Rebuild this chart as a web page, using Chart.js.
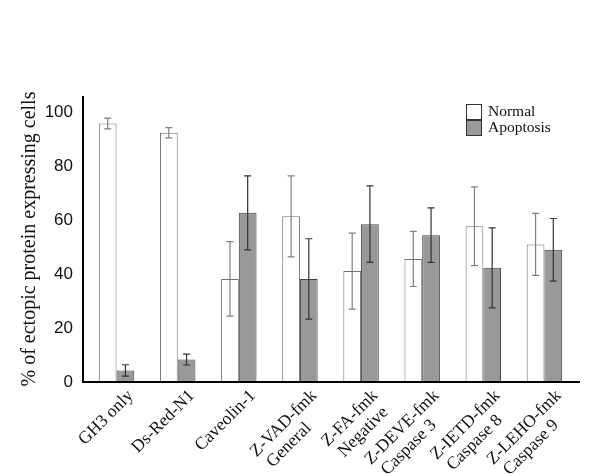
<!DOCTYPE html>
<html>
<head>
<meta charset="utf-8">
<script src="https://cdn.jsdelivr.net/npm/chart.js@4"></script>
<style>
  html, body { margin: 0; padding: 0; background: #fff; }
</style>
</head>
<body>
<canvas id="chart" width="600" height="474"></canvas>
<script>
// values
const categories = [
  ["GH3 only"], ["Ds-Red-N1"], ["Caveolin-1"],
  ["Z-VAD-fmk", "General"], ["Z-FA-fmk", "Negative"],
  ["Z-DEVE-fmk", "Caspase 3"], ["Z-IETD-fmk", "Caspase 8"], ["Z-LEHO-fmk", "Caspase 9"]
];
const normal       = [95.8, 92.4, 38.2, 61.4, 41.1, 45.6, 57.7, 51.0];
const normalErr    = [2.0, 1.9, 13.8, 15.0, 14.1, 10.2, 14.6, 11.5];
const apoptosis    = [4.3, 8.3, 62.7, 38.2, 58.5, 54.4, 42.3, 49.0];
const apoptosisErr = [2.1, 2.0, 13.7, 14.9, 14.2, 10.1, 14.8, 11.6];
const yTicks = [0, 20, 40, 60, 80, 100];

const serif = "'Liberation Serif', 'Times New Roman', serif";
const sans = "'Liberation Sans', Arial, sans-serif";

// ====== error bars ======
const errorBars = {
  id: 'errorBars',
  afterDatasetsDraw(chart) {
    const ctx = chart.ctx;
    const y = chart.scales.y;
    chart.data.datasets.forEach((ds, i) => {
      const meta = chart.getDatasetMeta(i);
      ctx.save();
      ctx.strokeStyle = ds.errColor;
      ctx.lineWidth = 1.2;
      meta.data.forEach((bar, j) => {
        const v = ds.data[j], e = ds.err[j];
        const top = y.getPixelForValue(v + e);
        const bot = y.getPixelForValue(v - e);
        ctx.beginPath();
        ctx.moveTo(bar.x, top); ctx.lineTo(bar.x, bot);
        ctx.moveTo(bar.x - 3.5, top); ctx.lineTo(bar.x + 3.5, top);
        ctx.moveTo(bar.x - 3.5, bot); ctx.lineTo(bar.x + 3.5, bot);
        ctx.stroke();
      });
      ctx.restore();
    });
  }
};

// ====== axis lines ======
const axisLines = {
  id: 'axisLines',
  afterDraw(chart) {
    const { ctx, chartArea } = chart;
    ctx.save();
    ctx.strokeStyle = '#000';
    ctx.lineWidth = 2;
    ctx.beginPath();
    ctx.moveTo(chartArea.left - 3, chartArea.top);
    ctx.lineTo(chartArea.left - 3, chartArea.bottom);
    ctx.lineTo(chartArea.right + 5, chartArea.bottom);
    ctx.stroke();
    ctx.restore();
  }
};

// ====== slanted category labels (second line starts where the first starts) ======
const slantLabels = {
  id: 'slantLabels',
  afterDraw(chart) {
    const { ctx } = chart;
    const xs = chart.scales.x;
    const ang = -45 * Math.PI / 180;
    ctx.save();
    ctx.font = "17.5px " + serif;
    ctx.fillStyle = '#111';
    ctx.textBaseline = 'top';
    chart.data.labels.forEach((lines, i) => {
      const px = xs.getPixelForTick(i);
      ctx.save();
      ctx.translate(px + 8, xs.top + 5);
      ctx.rotate(ang);
      const w = ctx.measureText(lines[0]).width;
      ctx.textAlign = 'right';
      ctx.fillText(lines[0], 0, 0);
      if (lines[1]) {
        ctx.textAlign = 'left';
        ctx.fillText(lines[1], -w + 4, 19);
      }
      ctx.restore();
    });
    ctx.restore();
  }
};

// ====== legend box top right ======
const boxLegend = {
  id: 'boxLegend',
  afterDraw(chart) {
    const { ctx, chartArea } = chart;
    const x = chartArea.right - 109;
    let yy = chartArea.top + 8;
    ctx.save();
    ctx.font = "15.5px " + serif;
    ctx.textBaseline = 'middle';
    chart.data.datasets.forEach(ds => {
      ctx.fillStyle = ds.backgroundColor;
      ctx.fillRect(x, yy, 16, 15);
      ctx.strokeStyle = '#333';
      ctx.lineWidth = 1;
      ctx.strokeRect(x + 0.5, yy + 0.5, 15, 15);
      ctx.fillStyle = '#111';
      ctx.fillText(ds.label, x + 22, yy + 8);
      yy += 16;
    });
    ctx.restore();
  }
};

new Chart(document.getElementById('chart'), {
  type: 'bar',
  data: {
    labels: categories,
    datasets: [
      {
        label: 'Normal',
        data: normal,
        err: normalErr,
        errColor: '#808080',
        backgroundColor: '#ffffff',
        borderColor: '#707070',
        borderWidth: 1
      },
      {
        label: 'Apoptosis',
        data: apoptosis,
        err: apoptosisErr,
        errColor: '#333333',
        backgroundColor: '#999999',
        borderColor: '#444444',
        borderWidth: 1
      }
    ]
  },
  options: {
    responsive: false,
    animation: false,
    categoryPercentage: 0.58,
    barPercentage: 1.0,
    layout: { padding: { top: 96, right: 25, left: 0, bottom: 0 } },
    plugins: {
      legend: { display: false },
      tooltip: { enabled: false }
    },
    scales: {
      x: {
        grid: { display: false, drawTicks: false },
        border: { display: false },
        ticks: { display: false },
        afterFit(scale) { scale.height = 92; }
      },
      y: {
        min: 0,
        max: 106,
        grid: { display: false, drawTicks: false },
        border: { display: false },
        afterBuildTicks(scale) { scale.ticks = yTicks.map(v => ({ value: v })); },
        ticks: {
          color: '#111',
          font: { family: sans, size: 17 },
          padding: 13
        },
        title: {
          display: true,
          text: '% of ectopic protein expressing cells',
          color: '#111',
          font: { family: serif, size: 20 },
          padding: { top: 18, bottom: 0 }
        },
        afterFit(scale) { scale.width = 86; }
      }
    }
  },
  plugins: [errorBars, axisLines, slantLabels, boxLegend]
});
</script>
</body>
</html>
